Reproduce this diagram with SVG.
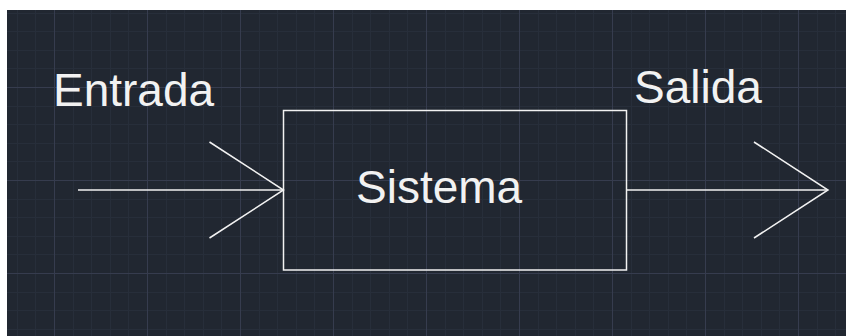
<svg xmlns="http://www.w3.org/2000/svg" width="846" height="336" viewBox="0 0 846 336">
  <defs>
    <style>
      .minor { stroke: #272e3a; stroke-width: 1; fill: none; shape-rendering: crispEdges; }
      .major { stroke: #363c4e; stroke-width: 1; fill: none; shape-rendering: crispEdges; }
      .wire { stroke: #f2f2f2; stroke-width: 1.5; fill: none; }
      .label { font-family: "Liberation Sans", Arial, sans-serif; font-size: 46px; fill: #f2f2f2; }
    </style>
    <marker id="chev" markerUnits="userSpaceOnUse" viewBox="-2 -2 78 100" markerWidth="78" markerHeight="100" refX="74" refY="48" orient="auto">
      <path d="M0,0 L74,48 L0,96" fill="none" stroke="#f2f2f2" stroke-width="1.5"/>
    </marker>
  </defs>
  <rect x="0" y="0" width="846" height="336" fill="#ffffff"/>
  <rect x="7" y="10" width="839" height="326" fill="#212731"/>
  <g id="grid">
    <path class="minor" d="M17.5,10V336M35.5,10V336M73.5,10V336M91.5,10V336M110.5,10V336M128.5,10V336M166.5,10V336M184.5,10V336M203.5,10V336M221.5,10V336M259.5,10V336M277.5,10V336M296.5,10V336M314.5,10V336M352.5,10V336M370.5,10V336M389.5,10V336M407.5,10V336M445.5,10V336M463.5,10V336M482.5,10V336M500.5,10V336M538.5,10V336M556.5,10V336M575.5,10V336M593.5,10V336M631.5,10V336M649.5,10V336M668.5,10V336M686.5,10V336M724.5,10V336M742.5,10V336M761.5,10V336M779.5,10V336M817.5,10V336M835.5,10V336
      M7,13.5H846M7,31.5H846M7,50.5H846M7,68.5H846M7,106.5H846M7,124.5H846M7,143.5H846M7,161.5H846M7,199.5H846M7,217.5H846M7,236.5H846M7,254.5H846M7,292.5H846M7,310.5H846M7,329.5H846"/>
    <path class="major" d="M54.5,10V336M147.5,10V336M240.5,10V336M333.5,10V336M426.5,10V336M519.5,10V336M612.5,10V336M705.5,10V336M798.5,10V336M7,87.5H846M7,180.5H846M7,273.5H846"/>
  </g>
  <g id="connectors">
    <path id="in-arrow" class="wire" d="M78,190 H283.5" marker-end="url(#chev)"/>
    <path id="out-arrow" class="wire" d="M627,190 H828" marker-end="url(#chev)"/>
  </g>
  <g id="entrada">
    <text class="label" x="53" y="106">Entrada</text>
  </g>
  <g id="sistema">
    <rect x="283.5" y="110.5" width="343" height="159.5" fill="none" stroke="#f2f2f2" stroke-width="1.5"/>
    <text class="label" x="356" y="203">Sistema</text>
  </g>
  <g id="salida">
    <text class="label" x="634" y="103">Salida</text>
  </g>
</svg>
